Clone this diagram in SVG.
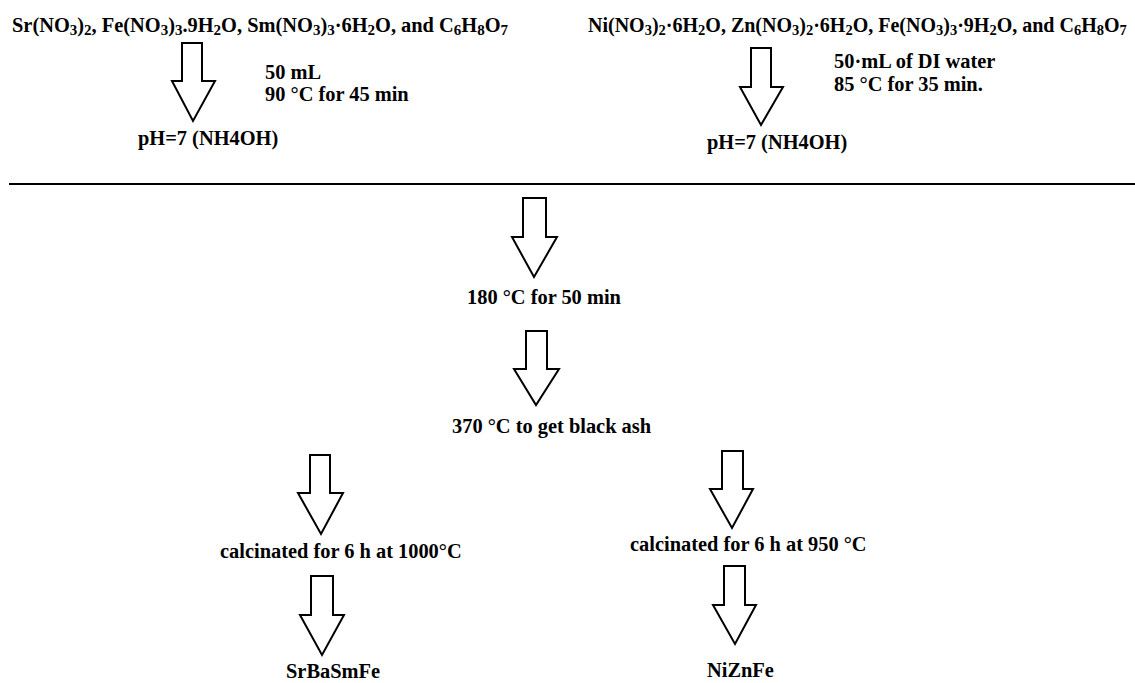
<svg xmlns="http://www.w3.org/2000/svg" width="1135" height="683" viewBox="0 0 1135 683">
<style>
text{font-family:"Liberation Serif","Times New Roman",serif;font-weight:bold;font-size:20.4px;fill:#000}
.s{font-size:15px}
.r{font-size:20px}
.r .s{font-size:14.5px}
.arrow{fill:#fff;stroke:#000;stroke-width:2;stroke-linejoin:miter}
</style>
<rect width="1135" height="683" fill="#fff"/>
<g id="connectors">
<polygon class="arrow" points="182,43 202,43 202,81 215,81 193,121 172,81 182,81"/>
<polygon class="arrow" points="751,48 771,48 771,87 783,87 761,125 740,87 751,87"/>
<polygon class="arrow" points="523,198 546,198 546,237 557,237 534,277 512,237 523,237"/>
<polygon class="arrow" points="526,331 547,331 547,369 559,369 536,405 514,369 526,369"/>
<polygon class="arrow" points="310,455 330,455 330,493 343,493 321,534 298,493 310,493"/>
<polygon class="arrow" points="311,576 333,576 333,615 344,615 322,655 300,615 311,615"/>
<polygon class="arrow" points="722,451 743,451 743,489 753,489 732,528 710,489 722,489"/>
<polygon class="arrow" points="724,566 745,566 745,605 756,605 735,644 713,605 724,605"/>
<line x1="9" y1="184" x2="1135" y2="184" stroke="#000" stroke-width="2"/>
</g>
<g id="reagents-left">
<text x="12" y="32">Sr(NO<tspan class="s" dy="3">3</tspan><tspan dy="-3">)</tspan><tspan class="s" dy="3">2</tspan><tspan dy="-3">, Fe(NO</tspan><tspan class="s" dy="3">3</tspan><tspan dy="-3">)</tspan><tspan class="s" dy="3">3</tspan><tspan dy="-3">.9H</tspan><tspan class="s" dy="3">2</tspan><tspan dy="-3">O, Sm(NO</tspan><tspan class="s" dy="3">3</tspan><tspan dy="-3">)</tspan><tspan class="s" dy="3">3</tspan><tspan dy="-3">·6H</tspan><tspan class="s" dy="3">2</tspan><tspan dy="-3">O, and C</tspan><tspan class="s" dy="3">6</tspan><tspan dy="-3">H</tspan><tspan class="s" dy="3">8</tspan><tspan dy="-3">O</tspan><tspan class="s" dy="3">7</tspan></text>
</g>
<g id="cond-left">
<text x="265" y="79">50 mL</text>
<text x="265" y="101">90 °C for 45 min</text>
</g>
<g id="ph-left"><text x="138" y="145">pH=7 (NH4OH)</text></g>
<g id="reagents-right">
<text class="r" x="588" y="32">Ni(NO<tspan class="s" dy="3">3</tspan><tspan dy="-3">)</tspan><tspan class="s" dy="3">2</tspan><tspan dy="-3">·6H</tspan><tspan class="s" dy="3">2</tspan><tspan dy="-3">O, Zn(NO</tspan><tspan class="s" dy="3">3</tspan><tspan dy="-3">)</tspan><tspan class="s" dy="3">2</tspan><tspan dy="-3">·6H</tspan><tspan class="s" dy="3">2</tspan><tspan dy="-3">O, Fe(NO</tspan><tspan class="s" dy="3">3</tspan><tspan dy="-3">)</tspan><tspan class="s" dy="3">3</tspan><tspan dy="-3">·9H</tspan><tspan class="s" dy="3">2</tspan><tspan dy="-3">O, and C</tspan><tspan class="s" dy="3">6</tspan><tspan dy="-3">H</tspan><tspan class="s" dy="3">8</tspan><tspan dy="-3">O</tspan><tspan class="s" dy="3">7</tspan></text>
</g>
<g id="cond-right">
<text x="834" y="68">50·mL of DI water</text>
<text x="834" y="91">85 °C for 35 min.</text>
</g>
<g id="ph-right"><text x="707" y="149">pH=7 (NH4OH)</text></g>
<g id="step-180"><text x="467" y="304">180 °C for 50 min</text></g>
<g id="step-370"><text x="452" y="433">370 °C to get black ash</text></g>
<g id="calc-left"><text x="220" y="558">calcinated for 6 h at 1000°C</text></g>
<g id="calc-right"><text x="630" y="551">calcinated for 6 h at 950 °C</text></g>
<g id="product-left"><text x="286" y="678">SrBaSmFe</text></g>
<g id="product-right"><text x="707" y="677">NiZnFe</text></g>
</svg>
